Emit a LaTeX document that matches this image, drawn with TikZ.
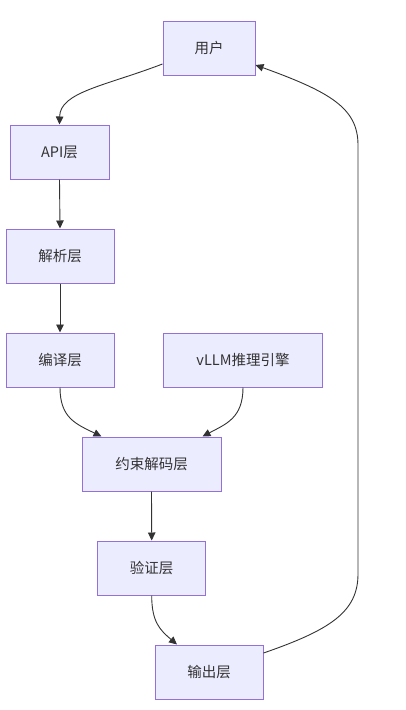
\documentclass[tikz,border=0pt]{standalone}
\usepackage{fontspec}
\setmainfont{Noto Sans CJK SC}
\usepackage{tikz}
\usetikzlibrary{arrows.meta,positioning,calc}
\usepackage{xcolor}
\definecolor{boxfill}{HTML}{ECECFF}
\definecolor{boxline}{HTML}{9370DB}
\definecolor{inkgray}{HTML}{333333}

\begin{document}
\begin{tikzpicture}[x=1pt,y=-1pt,
  box/.style={draw=boxline,fill=boxfill,line width=1pt,inner sep=0pt,minimum height=54pt,
    text=inkgray,font=\fontsize{14.5}{17}\selectfont},
  arr/.style={draw=inkgray,line width=0.9pt,-{Triangle[length=8pt,width=7.5pt]}}]
\useasboundingbox (0,0) rectangle (405,710);
\foreach \n/\x/\y/\w/\t in {user/209/48/92/用户,api/59.5/152/99/API层,parse/60/256/108/解析层,
  compile/60/360/108/编译层,vllm/243/360/159/vLLM推理引擎,cdec/151.5/464/139/约束解码层,
  verify/151.7/568/108/验证层,output/209/672/108/输出层}
  \node[box,minimum width=\w pt] (\n) at (\x,\y) {\t};
\draw[arr] ([yshift=-16pt]user.west) .. controls (105,86) and (60,92) .. (api.north);
\draw[arr] (api.south) -- (parse.north);
\draw[arr] (parse.south) -- (compile.north);
\draw[arr] (compile.south) .. controls (60,418) and (76,424) .. ([xshift=-50pt]cdec.north);
\draw[arr] (vllm.south) .. controls (243,418) and (226,424) .. ([xshift=51pt]cdec.north);
\draw[arr] (cdec.south) -- (verify.north);
\draw[arr] (verify.south) .. controls (151.7,622) and (160,630) .. ([xshift=-32pt]output.north);
\draw[arr] ([yshift=19pt]output.east) .. controls (330,630) and (358,612) .. (358,574)
  -- (358,145) .. controls (358,108) and (330,92) .. ([yshift=-17pt]user.east);
\end{tikzpicture}
\end{document}
